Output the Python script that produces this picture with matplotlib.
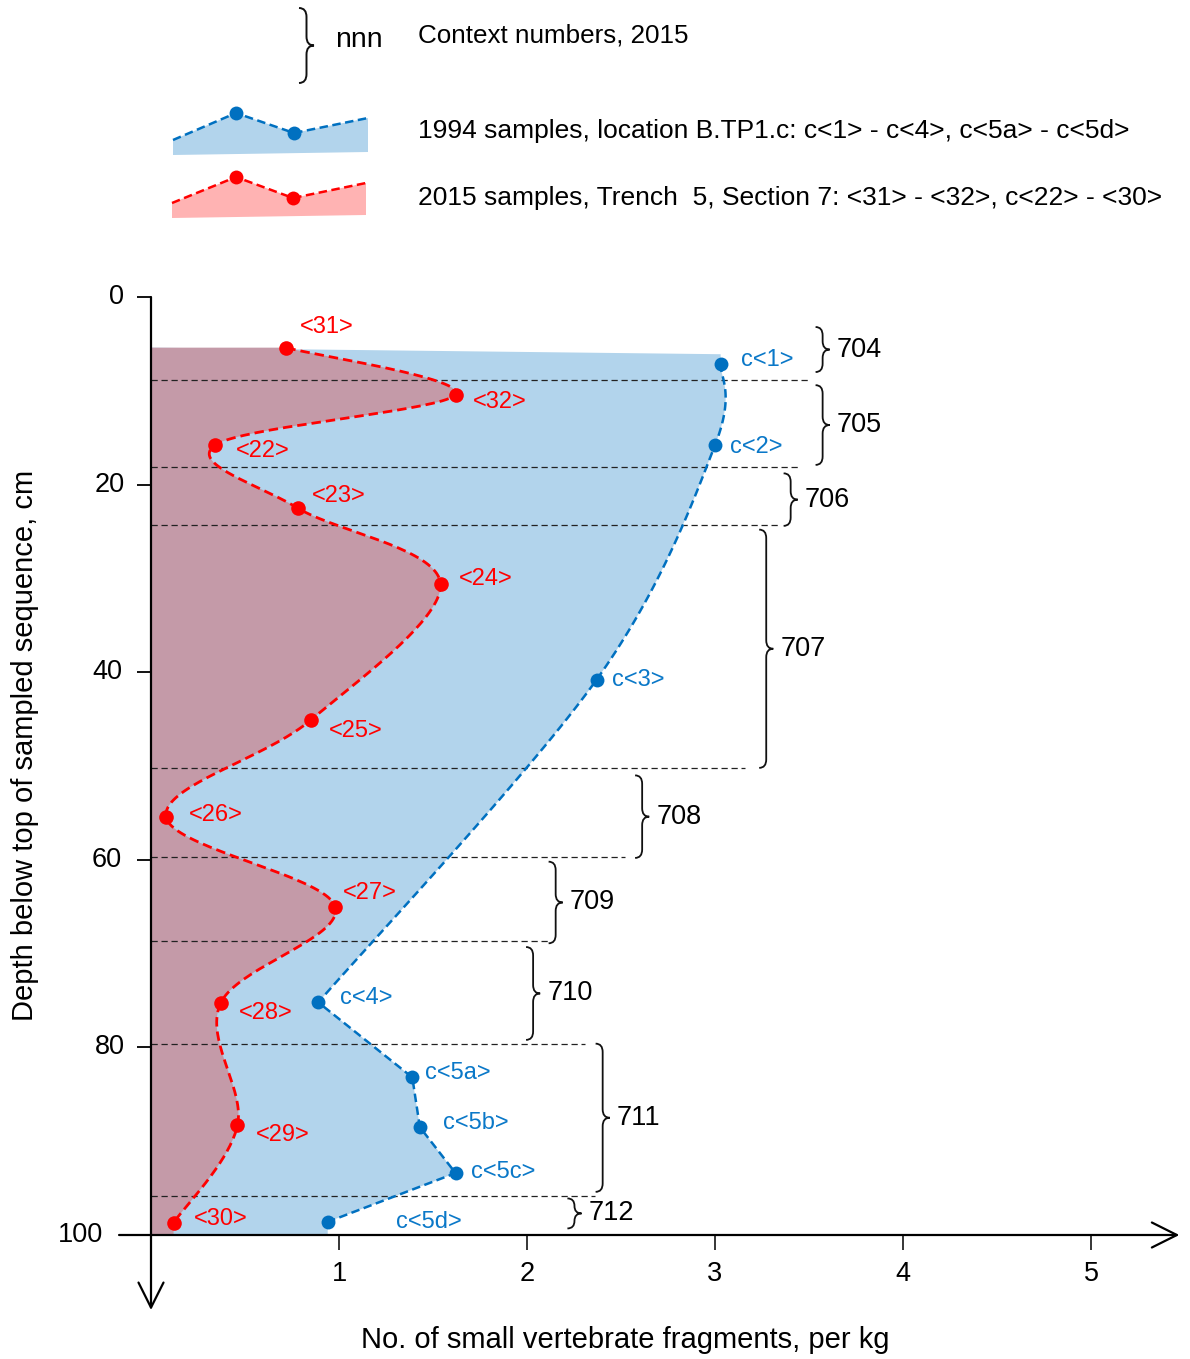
import numpy as np
import matplotlib
matplotlib.use('Agg')
import matplotlib.pyplot as plt
from matplotlib.path import Path
from matplotlib.patches import PathPatch, Polygon
import matplotlib.transforms as mtransforms

plt.rcParams['font.family'] = ['Liberation Sans', 'DejaVu Sans']

# ---------------- data ----------------
blue_labels = ['c<1>', 'c<2>', 'c<3>', 'c<4>', 'c<5a>', 'c<5b>', 'c<5c>', 'c<5d>']
blue_x = [3.03, 3.00, 2.37, 0.89, 1.39, 1.43, 1.62, 0.94]
blue_depth = [7.1, 15.8, 40.8, 75.2, 83.2, 88.5, 93.4, 98.6]

red_labels = ['<31>', '<32>', '<22>', '<23>', '<24>', '<25>', '<26>', '<27>', '<28>', '<29>', '<30>']
red_x = [0.72, 1.62, 0.34, 0.78, 1.54, 0.85, 0.08, 0.98, 0.37, 0.46, 0.12]
red_depth = [5.4, 10.4, 15.8, 22.5, 30.6, 45.1, 55.4, 65.0, 75.3, 88.3, 98.7]

blue_fill_top = [5.4, 6.1]          # depth of the top edge of the blue area (left, right)

boundary_depth = [8.85, 18.1, 24.3, 50.2, 59.7, 68.7, 79.6, 95.8]
boundary_end_x = [3.51, 3.45, 3.35, 3.16, 2.52, 2.12, 2.31, 2.36]

contexts = ['704', '705', '706', '707', '708', '709', '710', '711', '712']
context_top = [3.2, 9.4, 18.8, 24.8, 51.0, 60.2, 69.3, 79.6, 96.1]
context_bottom = [8.0, 17.9, 24.4, 50.2, 59.8, 68.9, 79.2, 95.4, 99.3]
context_x = [3.61, 3.61, 3.44, 3.31, 2.65, 2.19, 2.07, 2.44, 2.29]

xticks = [1, 2, 3, 4, 5]
yticks = [0, 20, 40, 60, 80, 100]

legend_texts = ['Context numbers, 2015',
                '1994 samples, location B.TP1.c: c<1> - c<4>, c<5a> - c<5d>',
                '2015 samples, Trench  5, Section 7: <31> - <32>, c<22> - <30>']

# ---------------- style ----------------
RED = '#ff0000'
BLUE = '#0070c0'
BLUE_TXT = '#0a78c8'
BLUE_FILL = '#b2d4ec'
RED_FILL = '#c49aa8'
LEG_RED_FILL = '#ffb3b3'
BLUE_SMOOTH_N = 4   # the blue line is smoothed through its first 4 points, straight afterwards

red_off = [(14, -21), (17, 7), (21, 6), (14, -12), (18, -5), (18, 11), (23, -2), (8, -14), (18, 10), (18, 10), (20, -4)]
blue_off = [(20, -4), (15, 2), (15, 0), (22, -4), (13, -4), (23, -4), (15, -1), (68, 0)]
ytick_gap = [27, 26, 29, 29, 26, 48]

W, H = 1190, 1359
fig = plt.figure(figsize=(W / 100, H / 100), dpi=100)

# overlay axes in pixel units (for the legend)
lax = fig.add_axes([0, 0, 1, 1])
lax.set_xlim(0, W)
lax.set_ylim(H, 0)
lax.axis('off')

# main axes: x=0 at px 151, 188 px/unit ; depth 0 at py 297, depth 100 at py 1235
x0px, xscale = 151, 188.0
y0px, y100px = 297, 1235
xmax = 5.5
ax = fig.add_axes([x0px / W, (H - y100px) / H, xmax * xscale / W, (y100px - y0px) / H])
ax.set_facecolor('none')
ax.set_xlim(0, xmax)
ax.set_ylim(100, 0)
for s in ax.spines.values():
    s.set_visible(False)


def catmull_rom(xs, ys, n=40):
    P = np.column_stack([xs, ys]).astype(float)
    Pe = np.vstack([P[0], P, P[-1]])
    out = []
    t = np.linspace(0, 1, n)[:, None]
    for i in range(len(P) - 1):
        p0, p1, p2, p3 = Pe[i], Pe[i + 1], Pe[i + 2], Pe[i + 3]
        c1 = p1 + (p2 - p0) / 6
        c2 = p2 - (p3 - p1) / 6
        seg = (1 - t) ** 3 * p1 + 3 * (1 - t) ** 2 * t * c1 + 3 * (1 - t) * t ** 2 * c2 + t ** 3 * p2
        out.append(seg if i == 0 else seg[1:])
    return np.vstack(out)


def brace_path(xtip, y0, y1, w, r):
    xl = xtip - w
    xm = xtip - w / 2
    ym = (y0 + y1) / 2
    r = min(r, (y1 - y0) / 4)
    verts = [(xl, y0), (xm, y0), (xm, y0 + r),
             (xm, ym - r), (xm, ym), (xtip, ym),
             (xm, ym), (xm, ym + r),
             (xm, y1 - r), (xm, y1), (xl, y1)]
    codes = [Path.MOVETO, Path.CURVE3, Path.CURVE3,
             Path.LINETO, Path.CURVE3, Path.CURVE3,
             Path.CURVE3, Path.CURVE3,
             Path.LINETO, Path.CURVE3, Path.CURVE3]
    return Path(verts, codes)


k = BLUE_SMOOTH_N
blue_curve = np.vstack([catmull_rom(blue_x[:k], blue_depth[:k]),
                        np.column_stack([blue_x[k:], blue_depth[k:]])])
red_curve = catmull_rom(red_x, red_depth)

# fills
blue_poly = np.vstack([[[0, blue_fill_top[0]], [blue_x[0], blue_fill_top[1]]],
                       blue_curve,
                       [[blue_x[-1], 100], [0, 100]]])
ax.add_patch(Polygon(blue_poly, closed=True, facecolor=BLUE_FILL, edgecolor='none', zorder=1))
red_poly = np.vstack([[[0, red_depth[0]]], red_curve, [[red_x[-1], 100], [0, 100]]])
ax.add_patch(Polygon(red_poly, closed=True, facecolor=RED_FILL, edgecolor='none', zorder=2))

# context boundaries
ax.hlines(boundary_depth, 0, boundary_end_x, colors='#222222', linestyles=(0, (5, 3)), lw=0.9, zorder=3)

# curves and markers
ax.plot(blue_curve[:, 0], blue_curve[:, 1], color=BLUE, lw=1.8, ls=(0, (3.4, 1.8)), zorder=4)
ax.plot(red_curve[:, 0], red_curve[:, 1], color=RED, lw=2.0, ls=(0, (3.4, 1.8)), zorder=4)
ax.plot(blue_x, blue_depth, 'o', color=BLUE, ms=10, mec='none', zorder=5)
ax.plot(red_x, red_depth, 'o', color=RED, ms=10.5, mec='none', zorder=5)

for lab, x, y, (dx, dy) in zip(red_labels, red_x, red_depth, red_off):
    ax.annotate(lab, (x, y), xytext=(dx, -dy), textcoords='offset pixels', ha='left', va='center',
                color=RED, fontsize=17, zorder=6, annotation_clip=False)
for lab, x, y, (dx, dy) in zip(blue_labels, blue_x, blue_depth, blue_off):
    ax.annotate(lab, (x, y), xytext=(dx, -dy), textcoords='offset pixels', ha='left', va='center',
                color=BLUE_TXT, fontsize=17, zorder=6, annotation_clip=False)

# braces and context numbers
for lab, y0, y1, xt in zip(contexts, context_top, context_bottom, context_x):
    ax.add_patch(PathPatch(brace_path(xt, y0, y1, 0.075, 0.9), facecolor='none', edgecolor='#111111',
                           lw=1.3, zorder=6, clip_on=False))
    ax.annotate(lab, (xt, (y0 + y1) / 2), xytext=(7, 0), textcoords='offset pixels', ha='left', va='center',
                fontsize=19.5, color='black', annotation_clip=False)

# axes with arrows
arrow = dict(arrowstyle='->,head_length=0.9,head_width=0.45', lw=1.6, color='black',
             shrinkA=0, shrinkB=0, mutation_scale=20)
ax.annotate('', xy=(5.47, 100), xytext=(-0.17, 100), arrowprops=arrow, annotation_clip=False)
ax.annotate('', xy=(0, 108.0), xytext=(0, 0), arrowprops=arrow, annotation_clip=False)

ax.set_xticks(xticks)
ax.set_xticklabels([str(v) for v in xticks])
ax.tick_params(axis='x', direction='out', length=11, width=1.1, pad=8, labelsize=19.5, colors='black')
ax.set_yticks(yticks)
ax.set_yticklabels([''] * len(yticks))
ax.tick_params(axis='y', direction='out', length=10, width=1.3, pad=0)
for v, g in zip(yticks, ytick_gap):
    tr = ax.get_yaxis_transform() + mtransforms.ScaledTranslation(-g / 100, 0, fig.dpi_scale_trans)
    ax.text(0, v, str(v), transform=tr, ha='right', va='center', fontsize=19.5)

# axis labels
lax.text(625, 1340, 'No. of small vertebrate fragments, per kg', ha='center', va='center', fontsize=21)
lax.text(25, 745, 'Depth below top of sampled sequence, cm', ha='center', va='center', rotation=90, fontsize=21)

# ---------------- legend ----------------
lax.add_patch(PathPatch(brace_path(314, 8, 83, 15, 9), facecolor='none', edgecolor='#111111', lw=1.4))
lax.text(335, 40, 'nnn', ha='left', va='center', fontsize=20.5)
lax.text(418, 35, legend_texts[0], ha='left', va='center', fontsize=18.7)

leg_blue_top = [(173, 140), (236, 113), (294, 133), (368, 118)]
leg_red_top = [(172, 203), (236, 177), (293, 198), (366, 183)]
for top, bot, fc, lc, ty, txt in [(leg_blue_top, [(368, 152), (173, 155)], BLUE_FILL, BLUE, 131, legend_texts[1]),
                                   (leg_red_top, [(366, 215), (172, 218)], LEG_RED_FILL, RED, 198, legend_texts[2])]:
    lax.add_patch(Polygon(top + bot, closed=True, facecolor=fc, edgecolor='none'))
    tx = [p[0] for p in top]
    tyy = [p[1] for p in top]
    lax.plot(tx, tyy, color=lc, lw=1.8, ls=(0, (3.4, 1.8)))
    lax.plot(tx[1:3], tyy[1:3], 'o', color=lc, ms=10, mec='none')
    lax.text(418, ty, txt, ha='left', va='center', fontsize=19)

fig.savefig('out.png', dpi=100)
